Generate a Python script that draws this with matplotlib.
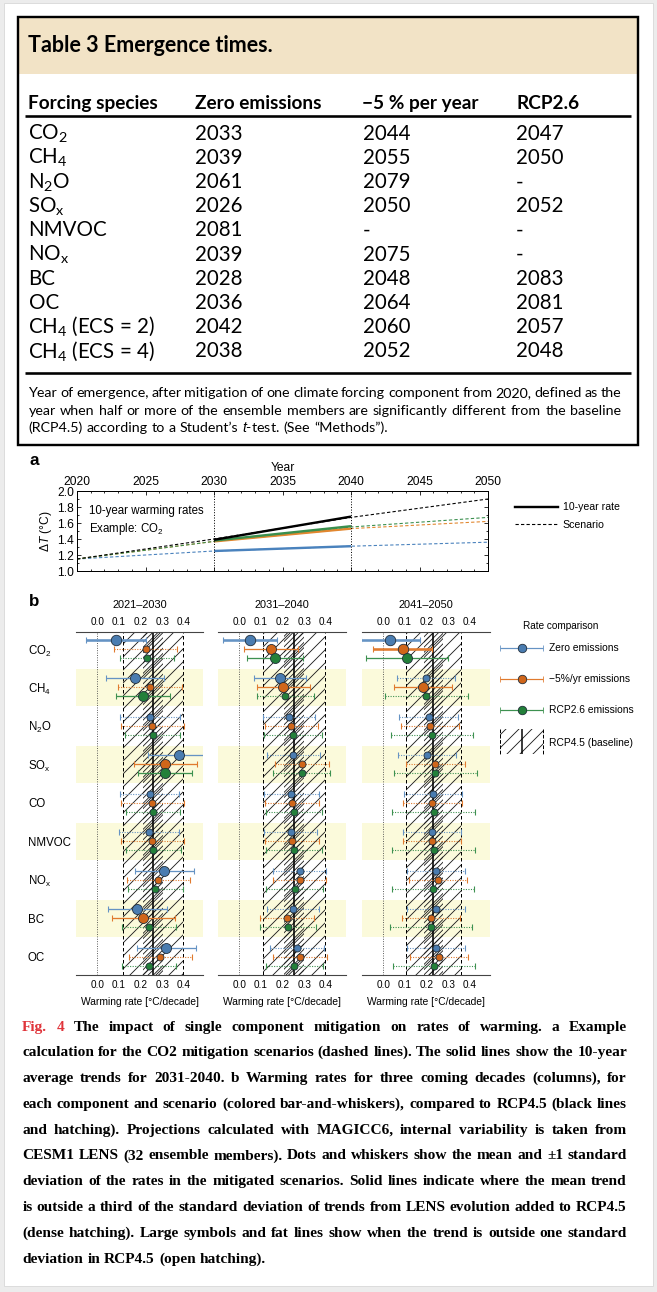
import numpy as np
import matplotlib
matplotlib.use("Agg")
import matplotlib.pyplot as plt
from matplotlib.patches import Rectangle

W, H, DPI = 657, 1292, 78


def P(px):
	# pixel size -> points at this dpi
	return px * 72.0 / DPI


SANS = ['Liberation Sans', 'DejaVu Sans']
TAB = ['Lato', 'DejaVu Sans']
SERIF = ['Liberation Serif', 'DejaVu Serif']

plt.rcParams['font.family'] = SANS
plt.rcParams['mathtext.default'] = 'regular'
plt.rcParams['mathtext.fontset'] = 'custom'
plt.rcParams['mathtext.it'] = 'Liberation Sans:italic'
plt.rcParams['hatch.linewidth'] = P(0.85)

# ---------------- table data ----------------
tab_header = ['Forcing species', 'Zero emissions', '\u22125 % per year', 'RCP2.6']
tab_species = ['CO$_2$', 'CH$_4$', 'N$_2$O', 'SO$_x$', 'NMVOC', 'NO$_x$', 'BC', 'OC',
			   'CH$_4$ (ECS = 2)', 'CH$_4$ (ECS = 4)']
tab_zero = ['2033', '2039', '2061', '2026', '2081', '2039', '2028', '2036', '2042', '2038']
tab_minus5 = ['2044', '2055', '2079', '2050', '-', '2075', '2048', '2064', '2060', '2052']
tab_rcp26 = ['2047', '2050', '-', '2052', '-', '-', '2083', '2081', '2057', '2048']
tab_note = ["Year of emergence, after mitigation of one climate forcing component from 2020, defined as the",
			"year when half or more of the ensemble members are significantly different from the baseline",
			"(RCP4.5) according to a Student\u2019s $\\mathit{t}$-test. (See \u201cMethods\u201d)."]

# ---------------- panel a data ----------------
years_a = [2020, 2030, 2040, 2050]
rcp45_a = [1.15, 1.40, 1.67, 1.90]
zero_a = [1.15, 1.25, 1.31, 1.36]
minus5_a = [1.15, 1.37, 1.53, 1.62]
rcp26_a = [1.15, 1.37, 1.55, 1.67]
trend_years = [2030, 2040]
rcp45_trend = [1.39, 1.68]
zero_trend = [1.25, 1.31]
minus5_trend = [1.37, 1.53]
rcp26_trend = [1.38, 1.56]

# ---------------- panel b data ----------------
species_b = ['CO$_2$', 'CH$_4$', 'N$_2$O', 'SO$_x$', 'CO', 'NMVOC', 'NO$_x$', 'BC', 'OC']
decades = ['2021\u20132030', '2031\u20132040', '2041\u20132050']
rate_ticks = [0.0, 0.1, 0.2, 0.3, 0.4]
rate_labels = ['0.0', '0.1', '0.2', '0.3', '0.4']
base_mean = [0.258, 0.253, 0.231]
base_sd = [0.137, 0.141, 0.128]

# means and standard deviations, one list per decade
zero_mean = [[0.087, 0.173, 0.244, 0.375, 0.242, 0.239, 0.310, 0.184, 0.319],
			 [0.049, 0.189, 0.228, 0.249, 0.241, 0.238, 0.280, 0.246, 0.267],
			 [0.033, 0.198, 0.209, 0.202, 0.229, 0.224, 0.244, 0.243, 0.244]]
zero_sd = [[0.138, 0.134, 0.137, 0.139, 0.137, 0.139, 0.135, 0.136, 0.135],
		   [0.124, 0.120, 0.120, 0.123, 0.125, 0.122, 0.122, 0.120, 0.125],
		   [0.137, 0.135, 0.134, 0.134, 0.135, 0.135, 0.134, 0.135, 0.134]]
minus5_mean = [[0.224, 0.244, 0.254, 0.314, 0.254, 0.254, 0.282, 0.212, 0.290],
			   [0.145, 0.204, 0.241, 0.288, 0.243, 0.243, 0.280, 0.220, 0.282],
			   [0.089, 0.185, 0.216, 0.241, 0.227, 0.224, 0.252, 0.219, 0.258]]
minus5_sd = [[0.146, 0.147, 0.145, 0.146, 0.145, 0.146, 0.145, 0.145, 0.145],
			 [0.124, 0.123, 0.123, 0.124, 0.123, 0.125, 0.122, 0.125, 0.124],
			 [0.138, 0.134, 0.134, 0.134, 0.135, 0.135, 0.133, 0.133, 0.135]]
rcp26_mean = [[0.230, 0.212, 0.256, 0.314, 0.257, 0.259, 0.268, 0.239, 0.239],
			  [0.165, 0.213, 0.247, 0.288, 0.252, 0.252, 0.255, 0.225, 0.253],
			  [0.110, 0.199, 0.226, 0.241, 0.232, 0.232, 0.230, 0.221, 0.235]]
rcp26_sd = [[0.124, 0.125, 0.127, 0.124, 0.126, 0.125, 0.127, 0.125, 0.125],
			[0.130, 0.130, 0.133, 0.130, 0.128, 0.130, 0.130, 0.130, 0.131],
			[0.190, 0.190, 0.189, 0.190, 0.191, 0.190, 0.190, 0.189, 0.190]]

scen_labels = ['Zero emissions', '\u22125%/yr emissions', 'RCP2.6 emissions']
line_col = ['#6593c4', '#e07a2e', '#3d9150']
face_col = ['#4a7cb0', '#d0661a', '#23803a']
edge_col = '#1e2a36'

fig = plt.figure(figsize=(W / DPI, H / DPI), dpi=DPI, facecolor='#ececec')


def px_axes(x0, y0, x1, y1):
	return fig.add_axes([x0 / W, 1 - y1 / H, (x1 - x0) / W, (y1 - y0) / H])


bg = fig.add_axes([0, 0, 1, 1])
bg.set_xlim(0, W)
bg.set_ylim(H, 0)
bg.axis('off')
bg.add_patch(Rectangle((4, 3), W - 8, H - 9, facecolor='white', edgecolor='#dcdcdc', lw=P(1)))

renderer = fig.canvas.get_renderer()


def paragraph(lines, y0, step, x0, x1, size, family, weight='normal'):
	# justified paragraph, last line left aligned; shrink the font if a line would not fit
	def make(size):
		out = []
		for k, words in enumerate(lines):
			arts = []
			for w in words:
				s, c = w if isinstance(w, tuple) else (w, 'black')
				arts.append(bg.text(0, y0 + k * step, s, fontsize=P(size), family=family,
									fontweight=weight, color=c, va='baseline', ha='left'))
			out.append(arts)
		return out
	rows = make(size)
	need = max(sum(a.get_window_extent(renderer).width for a in arts) + 0.2 * size * (len(arts) - 1)
			   for arts in rows)
	if need > x1 - x0:
		for arts in rows:
			for a in arts:
				a.remove()
		size = size * (x1 - x0) / need
		rows = make(size)
	for k, arts in enumerate(rows):
		widths = [a.get_window_extent(renderer).width for a in arts]
		if k < len(rows) - 1:
			gap = (x1 - x0 - sum(widths)) / (len(arts) - 1)
		else:
			gap = 0.27 * size
		x = x0
		for a, w in zip(arts, widths):
			a.set_x(x)
			x += w + gap


# ---------------- table ----------------
bg.add_patch(Rectangle((18, 17), 620, 57, facecolor='#f2e3c6', lw=0))
bg.add_patch(Rectangle((18, 17), 620, 428, facecolor='none', edgecolor='black', lw=P(2.4), zorder=3))
bg.text(28.5, 52, 'Table 3 Emergence times.', fontsize=P(21.5), fontweight='bold', family=TAB)

col_x = [28.5, 195, 362.5, 516]
for cx, lab in zip(col_x, tab_header):
	bg.text(cx, 109, lab, fontsize=P(19), fontweight='bold', family=TAB, va='baseline')
bg.hlines([116, 373], 25, 631, color='black', lw=P(2.6))

for i in range(len(tab_species)):
	yb = 132.7 + i * 24.15 + 7.2
	row = [tab_species[i], tab_zero[i], tab_minus5[i], tab_rcp26[i]]
	for cx, val in zip(col_x, row):
		bg.text(cx, yb, val, fontsize=P(20.5), family=TAB, va='baseline')

paragraph([line.split() for line in tab_note], 397, 17.5, 28.5, 621, 15, TAB)

# ---------------- panel a ----------------
bg.text(29, 460, 'a', fontsize=P(17), fontweight='bold', va='center')
axa = px_axes(77, 491, 488, 571)
axa.set_xlim(2020, 2050)
axa.set_ylim(1.0, 2.0)
scen_a = [zero_a, minus5_a, rcp26_a]
trend_a = [zero_trend, minus5_trend, rcp26_trend]
a_cols = ['#4a82bd', '#e2872f', '#3a8f4e']
for vals, c in zip(scen_a, a_cols):
	axa.plot(years_a, vals, ls='--', dashes=(3, 2), color=c, lw=P(1.1))
axa.plot(years_a, rcp45_a, ls='--', dashes=(3, 2), color='black', lw=P(1.1))
for vals, c in zip(trend_a, a_cols):
	axa.plot(trend_years, vals, color=c, lw=P(2.4), solid_capstyle='butt')
axa.plot(trend_years, rcp45_trend, color='black', lw=P(2.4), solid_capstyle='butt')
for yr in [2030, 2040]:
	axa.axvline(yr, ls=':', color='black', lw=P(1))
axa.set_xticks([2020, 2025, 2030, 2035, 2040, 2045, 2050])
axa.set_xticks(np.arange(2020, 2051, 1), minor=True)
axa.set_yticks([1.0, 1.2, 1.4, 1.6, 1.8, 2.0])
axa.set_yticklabels(['1.0', '1.2', '1.4', '1.6', '1.8', '2.0'])
axa.set_yticks(np.arange(1.0, 2.01, 0.1), minor=True)
axa.xaxis.set_label_position('top')
axa.set_xlabel('Year', fontsize=P(12), labelpad=P(5))
axa.set_ylabel('\u0394$\\mathit{T}$ (\u00b0C)', fontsize=P(12), labelpad=P(3))
axa.tick_params(which='both', direction='in', top=True, bottom=True, left=True, right=True,
				labeltop=True, labelbottom=False, labelsize=P(12), width=P(0.8), pad=P(3))
axa.tick_params(which='major', length=P(4))
axa.tick_params(which='minor', length=P(2))
for sp in axa.spines.values():
	sp.set_linewidth(P(1))
axa.text(0.029, 0.82, '10-year warming rates\nExample: CO$_2$', transform=axa.transAxes,
		 fontsize=P(11.5), va='top', linespacing=1.3)
axa.legend(handles=[plt.Line2D([], [], color='black', lw=P(2.4)),
					plt.Line2D([], [], color='black', lw=P(1.1), ls='--', dashes=(3, 2))],
		   labels=['10-year rate', 'Scenario'], loc='upper left', bbox_to_anchor=(1.066, 0.86),
		   frameon=False, fontsize=P(10.5), borderpad=0, borderaxespad=0, handlelength=4.1,
		   handletextpad=0.45, labelspacing=0.7)

# ---------------- panel b ----------------
bg.text(29, 601, 'b', fontsize=P(17), fontweight='bold', va='center')
col_left = [75.5, 217.5, 361.5]
top_b, bot_b = 631.7, 975
offsets = [-0.235, 0.0, 0.235]
means = [zero_mean, minus5_mean, rcp26_mean]
sds = [zero_sd, minus5_sd, rcp26_sd]
for k in range(3):
	ax = px_axes(col_left[k], top_b, col_left[k] + 128, bot_b)
	ax.set_xlim(-0.1, 0.49)
	ax.set_ylim(8.48, -0.45)
	ax.patch.set_alpha(0)
	for g in range(1, 9, 2):
		ax.axhspan(g - 0.48, g + 0.48, color='#fbfadb', lw=0, zorder=0)
	m, s = base_mean[k], base_sd[k]
	# open hatching: +-1 sd, dense hatching: +-1/3 sd
	ax.axvspan(m - s, m + s, facecolor='none', edgecolor='#1a1a1a', hatch='//', lw=0, zorder=1)
	ax.axvspan(m - s / 3, m + s / 3, facecolor='none', edgecolor='#1a1a1a', hatch='/////',
			   lw=0, zorder=1.5)
	for xv in [m - s, m + s]:
		ax.axvline(xv, ls='--', dashes=(3.5, 2.5), color='black', lw=P(1))
	ax.axvline(m, color='black', lw=P(1.6), zorder=2)
	ax.axvline(0, ls=':', color='#444444', lw=P(0.9), zorder=1)
	for j in range(3):
		mu = np.array(means[j][k])
		sd = np.array(sds[j][k])
		ys = np.arange(len(species_b)) + offsets[j]
		for i in range(len(species_b)):
			d = abs(mu[i] - m)
			level = 0 if d < s / 3 else (1 if d < s else 2)
			if level == 0:
				ls, lw, ms = (0, (1, 1.3)), P(1.1), P(7)
			elif level == 1:
				ls, lw, ms = '-', P(1.3), P(10)
			else:
				ls, lw, ms = '-', P(2.6), P(10.5)
			ax.hlines(ys[i], mu[i] - sd[i], mu[i] + sd[i], color=line_col[j], lw=lw,
					  linestyles=[ls], zorder=3)
			ax.plot([mu[i] - sd[i], mu[i] + sd[i]], [ys[i], ys[i]], ls='none', marker='|',
					ms=P(6), mew=P(1.1), color=line_col[j], zorder=3)
			ax.plot(mu[i], ys[i], 'o', ms=ms, mfc=face_col[j], mec=edge_col, mew=P(0.8), zorder=4)
	for side in ['left', 'right']:
		ax.spines[side].set_visible(False)
	for side in ['top', 'bottom']:
		ax.spines[side].set_color('#444444')
		ax.spines[side].set_linewidth(P(1.1))
	ax.set_xticks(rate_ticks)
	ax.set_xticklabels(rate_labels)
	ax.tick_params(axis='x', top=True, labeltop=True, bottom=True, labelbottom=True,
				   length=0, pad=P(4.5), labelsize=P(10))
	if k == 0:
		ax.set_yticks(np.arange(len(species_b)))
		ax.set_yticklabels(species_b, ha='left', fontsize=P(11.5))
		ax.tick_params(axis='y', length=0, pad=P(col_left[0] - 28))
	else:
		ax.set_yticks([])
	ax.text(0.5, 1 + (top_b - 605) / (bot_b - top_b), decades[k], transform=ax.transAxes,
			ha='center', va='center', fontsize=P(11))
	ax.text(0.5, -(1002 - bot_b) / (bot_b - top_b), 'Warming rate [\u00b0C/decade]',
			transform=ax.transAxes, ha='center', va='center', fontsize=P(10.2))

# legend for panel b (pixel coordinates)
lax = px_axes(480, 600, 657, 765)
lax.set_xlim(480, 657)
lax.set_ylim(765, 600)
lax.axis('off')
lax.text(561, 625.7, 'Rate comparison', ha='center', va='center', fontsize=P(10))
leg_y = [648.3, 679.3, 710.3]
for j in range(3):
	lax.errorbar([521.5], [leg_y[j]], xerr=[21.3], fmt='o', color=line_col[j], ms=P(8.5),
				 mfc=face_col[j], mec=edge_col, mew=P(0.8), elinewidth=P(1.2),
				 capsize=P(3), capthick=P(1.1))
	lax.text(549, leg_y[j], scen_labels[j], va='center', fontsize=P(10.3))
lax.add_patch(Rectangle((500, 729), 43, 25, facecolor='none', edgecolor='#1a1a1a', hatch='//', lw=0))
lax.vlines([500, 543], 729, 754, color='black', lw=P(1), linestyles='--')
lax.vlines([521.5], 729, 754, color='black', lw=P(1.5))
lax.text(549, 742.5, 'RCP4.5 (baseline)', va='center', fontsize=P(10.3))

# ---------------- caption ----------------
caption = [
	[('Fig.', '#e0343a'), ('4', '#e0343a')] + 'The impact of single component mitigation on rates of warming. a Example'.split(),
	'calculation for the CO2 mitigation scenarios (dashed lines). The solid lines show the 10-year'.split(),
	'average trends for 2031-2040. b Warming rates for three coming decades (columns), for'.split(),
	'each component and scenario (colored bar-and-whiskers), compared to RCP4.5 (black lines'.split(),
	'and hatching). Projections calculated with MAGICC6, internal variability is taken from'.split(),
	'CESM1 LENS (32 ensemble members). Dots and whiskers show the mean and \u00b11 standard'.split(),
	'deviation of the rates in the mitigated scenarios. Solid lines indicate where the mean trend'.split(),
	'is outside a third of the standard deviation of trends from LENS evolution added to RCP4.5'.split(),
	'(dense hatching). Large symbols and fat lines show when the trend is outside one standard'.split(),
	'deviation in RCP4.5 (open hatching).'.split(),
]
paragraph(caption, 1030.5, 25.78, 22.2, 627, 15.4, SERIF, weight='bold')

fig.savefig('out.png', dpi=DPI, facecolor=fig.get_facecolor())
